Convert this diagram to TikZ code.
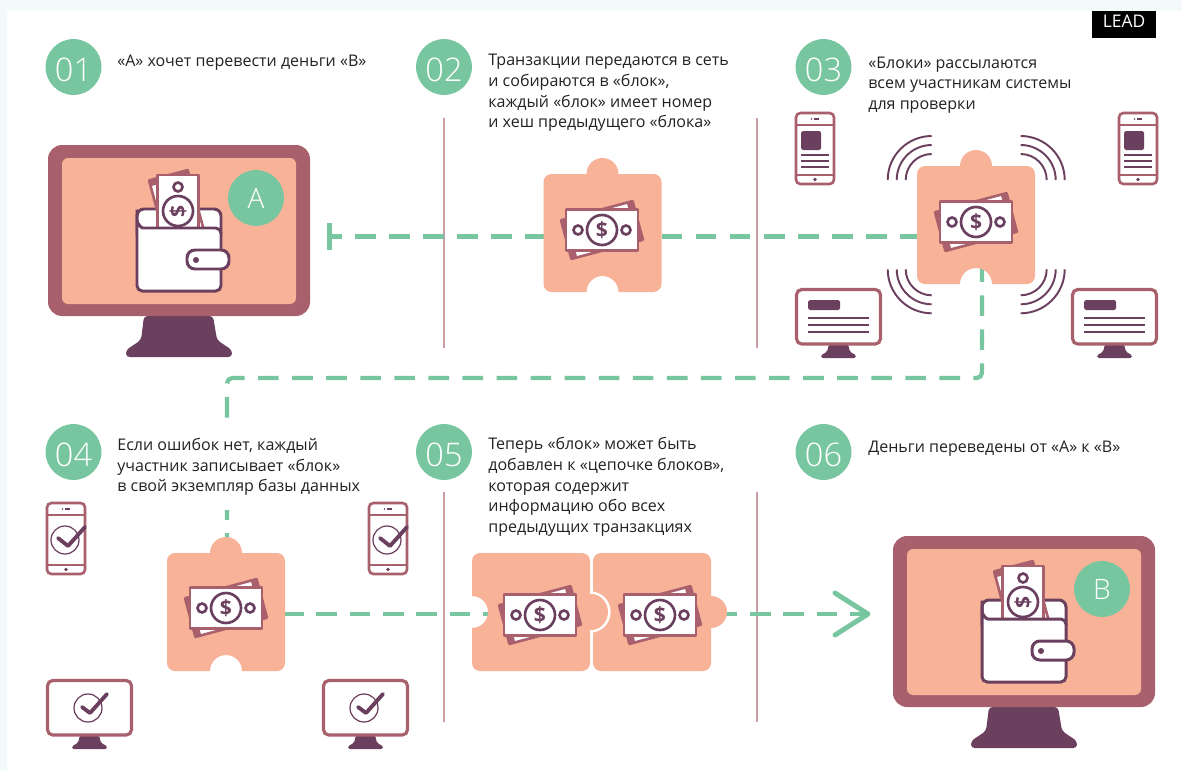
\documentclass[tikz,border=0pt]{standalone}
\usepackage{fontspec}
\setmainfont{Open Sans}
\newfontfamily\thinfont{Open Sans Light}
\usetikzlibrary{arrows.meta}

\definecolor{mintgreen}{HTML}{78C6A0}
\definecolor{peach}{HTML}{F7B297}
\definecolor{mauve}{HTML}{A8606C}
\definecolor{plum}{HTML}{6B3F5E}
\definecolor{pagetint}{HTML}{F4F9FC}
\definecolor{inkgrey}{HTML}{222222}
\definecolor{sepline}{HTML}{CC9DA4}

\tikzset{
	%circles with numbers
	letterdot/.style={circle,fill=mintgreen,text=white,inner sep=0pt,minimum size=31.8pt,font=\thinfont\fontsize{16pt}{18pt}\selectfont},
	numdot/.style={letterdot,text height=16pt,text depth=0pt,font=\thinfont\fontsize{18.5pt}{20pt}\selectfont},
	%texts
	caption/.style={anchor=west,align=left,inner xsep=0pt,inner ysep=0pt,text=inkgrey,font=\fontsize{9.13pt}{11.75pt}\selectfont},
	sepline/.style={draw=sepline,line width=0.7pt},
	%dashed connectors
	flowline/.style={draw=mintgreen,line width=2.4pt,dash pattern=on 11.74pt off 7.65pt},
	%banknote
	noteline/.style={draw=mauve,fill=white,line width=1.5pt,line join=round},
	coinline/.style={draw=plum,fill=white,line width=1.5pt},
	dollarsign/.style={text=plum,inner sep=0pt,transform shape,font=\bfseries\fontsize{12pt}{13pt}\selectfont},
	walletline/.style={draw=plum,fill=white,line width=1.7pt},
	frameline/.style={draw=mauve,fill=white,line width=1.5pt},
	waveline/.style={draw=plum,line width=1.1pt},
	tickline/.style={draw=plum,line width=2.2pt,line cap=round,line join=round},
	ringline/.style={draw=plum,line width=0.7pt},
	textline/.style={draw=plum,line width=0.9pt},
	pics/banknote/.style={code={
		\begin{scope}[rotate=15]
			\draw[noteline] (-37,-20) rectangle (37,20);
			\fill[mauve] (-37,-20) rectangle (-31,20);
			\fill[mauve] (31,-20) rectangle (37,20);
		\end{scope}
		\draw[noteline] (-36,-20.5) rectangle (36,20.5);
		\draw[coinline] (0,0) circle (15);
		\draw[coinline] (-24,0) circle (4.5);
		\draw[coinline] (24,0) circle (4.5);
		\node[dollarsign] (-sign) at (0,0) {\$};
	}},
	pics/puzzle/.style={code={
		\fill[peach] (-16,-59) arc[start angle=180,end angle=360,radius=16]
			-- (51,-59) arc[start angle=270,end angle=360,radius=8]
			-- (59,51) arc[start angle=0,end angle=90,radius=8]
			-- (16,59) arc[start angle=0,end angle=-180,radius=16]
			-- (-51,59) arc[start angle=90,end angle=180,radius=8]
			-- (-59,-51) arc[start angle=180,end angle=270,radius=8] -- cycle;
		\coordinate (-east) at (59,0);
		\coordinate (-west) at (-59,0);
	}},
	pics/waves/.style={code={
		\draw[waveline] (-26,0) arc[start angle=180,end angle=270,radius=26];
		\draw[waveline] (-35,0) arc[start angle=180,end angle=270,radius=35];
		\draw[waveline] (-44,0) arc[start angle=180,end angle=270,radius=44];
	}},
	pics/phone/.style={code={
		\draw[frameline,rounded corners=2.5pt] (0,0) rectangle (38,71);
		\draw[draw=mauve,line width=1.3pt] (0,12) -- (38,12);
		\draw[draw=mauve,line width=1.3pt] (0,62) -- (38,62);
		\draw[textline] (18,6) -- (23,6);
		\fill[plum] (15.5,6) circle (0.9);
		\fill[plum] (19,66.5) circle (1.8);
	}},
	pics/phoneinfo/.style={code={
		\fill[plum,rounded corners=1pt] (5,18) rectangle (25,37);
		\draw[textline] (5,42) -- (33,42);
		\draw[textline] (5,48) -- (33,48);
		\draw[textline] (5,54) -- (33,54);
	}},
	pics/phonecheck/.style={code={
		\draw[ringline] (18,37) circle (14);
		\draw[tickline] (11,35) -- (21,43) -- (38,24);
	}},
	pics/desk/.style={code={
		\fill[plum,rounded corners=1pt] (33,55) -- (52,55) -- (54,63) -- (60,66) -- (60,69) -- (25,69) -- (25,66) -- (31,63) -- cycle;
		\draw[frameline,line width=1.8pt,rounded corners=3pt] (0.5,0.5) rectangle (84.5,55);
	}},
	pics/deskinfo/.style={code={
		\fill[plum,rounded corners=1pt] (12,11) rectangle (44,21);
		\draw[textline] (12,29) -- (73,29);
		\draw[textline] (12,36) -- (73,36);
		\draw[textline] (12,43) -- (73,43);
	}},
	pics/deskcheck/.style={code={
		\draw[ringline] (41,28) circle (14);
		\draw[tickline] (35,27) -- (43,33) -- (60,14);
	}},
	pics/bigscreen/.style={code={
		\fill[plum,rounded corners=2pt] (96,171) -- (165,171) -- (169,195) -- (184,205) -- (184,212) -- (78,212) -- (78,205) -- (93,195) -- cycle;
		\fill[mauve,rounded corners=8pt] (0,0) rectangle (262,171);
		\fill[peach,rounded corners=3.5pt] (14,13) rectangle (248,159);
		%wallet
		\draw[walletline,rounded corners=4pt] (89,64) rectangle (173,95);
		\pic[rotate=90] (-cash) at (130,66) {banknote};
		\draw[walletline,rounded corners=3pt] (89,70) -- (89,146) -- (173,146) -- (173,83) -- (100,83) .. controls (93,83) and (89,78) .. (89,70) -- cycle;
		\draw[walletline,rounded corners=4.5pt] (139,105) rectangle (181,124);
		\fill[plum] (148,115) circle (3);
	}}
}

\begin{document}
\begin{tikzpicture}[x=0.02cm,y=-0.02cm]
	\useasboundingbox (0,0) rectangle (1182,771);
	\fill[pagetint] (0,0) rectangle (1182,771);
	\fill[white] (7,11) rectangle (1182,771);
	
	%LEAD mark
	\node[fill=black,text=white,minimum width=36.3pt,minimum height=15.3pt,inner sep=0pt,font=\fontsize{9.9pt}{11pt}\selectfont] (leadmark) at (1124,24.5) {\raisebox{3.4pt}{LEAD}};
	
	%separators
	\draw[sepline] (444,118) -- (444,348);
	\draw[sepline] (757,118) -- (757,348);
	\draw[sepline] (444,492) -- (444,722);
	\draw[sepline] (757,492) -- (757,722);
	
	%anchors of the connectors
	\coordinate (barA) at (330,236.5);
	\coordinate (outC) at (982,268);
	\coordinate (turnD) at (227,378);
	\coordinate (inD) at (227,540);
	\coordinate (outD) at (283,614);
	\coordinate (tipB) at (868,614);
	\coordinate (blockCleft) at (925,236.5);
	
	%connectors
	\draw[flowline,dash phase=5.1pt] (barA) -- (blockCleft);
	\draw[draw=mintgreen,line width=2.8pt] (329.5,223) -- (329.5,250);
	\draw[flowline,dash phase=3.86pt,rounded corners=3pt] (outC) |- (turnD) -- (inD);
	\draw[flowline,dash pattern=on 11.74pt off 7.25pt] (outD) -- (tipB);
	
	%arrow head at B
	\coordinate (headtop) at (835,593);
	\coordinate (headlow) at (835,635);
	\draw[draw=mintgreen,line width=2.8pt,line cap=round,line join=round] (headtop) -- (tipB) -- (headlow);
	
	%number circles
	\node[numdot] (dotone) at (73.5,67) {01};
	\node[numdot] (dottwo) at (444,67) {02};
	\node[numdot] (dotthree) at (823.5,67) {03};
	\node[numdot] (dotfour) at (73.5,452) {04};
	\node[numdot] (dotfive) at (444,452) {05};
	\node[numdot] (dotsix) at (823.5,452) {06};
	
	%captions
	\node[caption] (textone) at (117,63) {«А» хочет перевести деньги «В»};
	\node[caption] (texttwo) at (488,93) {Транзакции передаются в сеть\\и собираются в «блок»,\\каждый «блок» имеет номер\\и хеш предыдущего «блока»};
	\node[caption] (textthree) at (868,85) {«Блоки» рассылаются\\всем участникам системы\\для проверки};
	\node[caption,fill=white,inner ysep=8pt] (textfour) at (117,467) {Если ошибок нет, каждый\\участник записывает «блок»\\в свой экземпляр базы данных};
	\node[caption] (textfive) at (488,487) {Теперь «блок» может быть\\добавлен к «цепочке блоков»,\\которая содержит\\информацию обо всех\\предыдущих транзакциях};
	\node[caption] (textsix) at (868,449) {Деньги переведены от «А» к «В»};
	
	%screen A
	\pic (screenA) at (48,145) {bigscreen};
	\node[letterdot] (letterA) at (256,198) {A};
	
	%block of step 2
	\pic (blocktwo) at (602.5,233) {puzzle};
	\pic (notetwo) at (602,230) {banknote};
	
	%block of step 3
	\pic (blockthree) at (976,225) {puzzle};
	\pic (notethree) at (976,222) {banknote};
	
		%waves
		\pic[rotate=0] (wavetl) at (931.7,180) {waves};
		\pic[rotate=-90] (wavetr) at (1020.7,180) {waves};
		\pic[rotate=90] (wavebl) at (931.7,269.3) {waves};
		\pic[rotate=180] (wavebr) at (1020.7,269.3) {waves};
	
		%devices
		\pic (phoneCa) at (796,113) {phone};
		\pic (phoneCainfo) at (796,113) {phoneinfo};
		\pic (phoneCb) at (1119,113) {phone};
		\pic (phoneCbinfo) at (1119,113) {phoneinfo};
		\pic (deskCa) at (796,289) {desk};
		\pic (deskCainfo) at (796,289) {deskinfo};
		\pic (deskCb) at (1072,289) {desk};
		\pic (deskCbinfo) at (1072,289) {deskinfo};
	
	%block of step 4
	\pic (blockfour) at (226,612) {puzzle};
	\pic (notefour) at (226,608) {banknote};
	
		%devices
		\pic (phoneDa) at (47,503) {phone};
		\pic (phoneDacheck) at (47,503) {phonecheck};
		\pic (phoneDb) at (369,503) {phone};
		\pic (phoneDbcheck) at (369,503) {phonecheck};
		\pic (deskDa) at (47,680) {desk};
		\pic (deskDacheck) at (47,680) {deskcheck};
		\pic (deskDb) at (323,680) {desk};
		\pic (deskDbcheck) at (323,680) {deskcheck};
	
	%blocks of step 5
	\pic[rotate=-90] (blockfivea) at (652,612) {puzzle};
	\pic[rotate=-90] (blockfiveb) at (531,612) {puzzle};
	\draw[white,line width=1.3pt] (590,592.5) arc[start angle=-90,end angle=90,radius=19.5];
	\fill[peach] (590,612) circle (18);
	\pic (notefivea) at (540,615) {banknote};
	\pic (notefiveb) at (660,615) {banknote};
	
	%screen B
	\pic (screenB) at (893,536) {bigscreen};
	\node[letterdot] (letterB) at (1102,589) {B};
\end{tikzpicture}
\end{document}
